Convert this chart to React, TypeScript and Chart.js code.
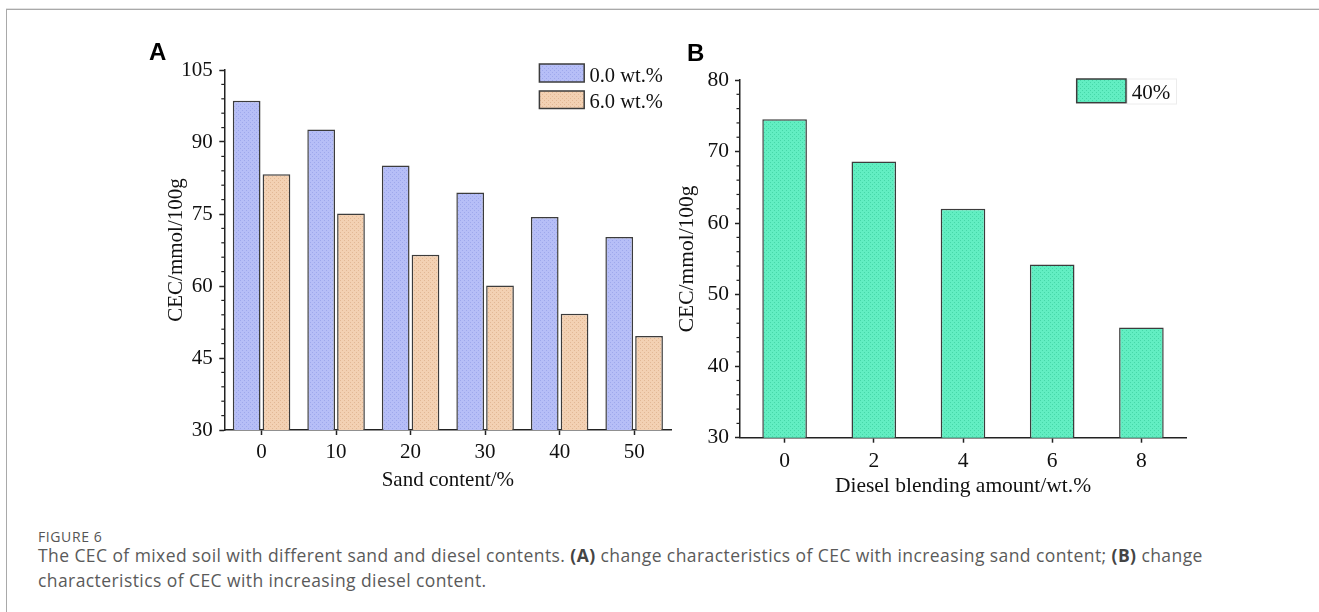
import React, { useEffect, useRef } from "react";
import { Chart, registerables } from "chart.js";

Chart.register(...registerables);

// ---- Data ----
const sandCategories = ["0", "10", "20", "30", "40", "50"];
const sandSeriesLabels = ["0.0 wt.%", "6.0 wt.%"];
const sandCEC_0wt = [98.6, 92.6, 85.1, 79.5, 74.4, 70.2];
const sandCEC_6wt = [83.3, 75.1, 66.5, 60.1, 54.2, 49.6];
const sandYRange = [30, 105];
const sandYStep = 15;
const sandYMinorStep = 3;

const dieselCategories = ["0", "2", "4", "6", "8"];
const dieselSeriesLabel = "40%";
const dieselCEC = [74.5, 68.6, 62.0, 54.2, 45.4];
const dieselYRange = [30, 80];
const dieselYStep = 10;
const dieselYMinorStep = 2;

const SERIF = "'Liberation Serif', 'Times New Roman', serif";

function makePattern(base: string, dot: string): CanvasPattern | string {
  const c = document.createElement("canvas");
  c.width = 4;
  c.height = 4;
  const g = c.getContext("2d");
  if (!g) return base;
  g.fillStyle = base;
  g.fillRect(0, 0, 4, 4);
  g.fillStyle = dot;
  g.fillRect(0, 0, 1, 1);
  g.fillRect(2, 2, 1, 1);
  const p = g.createPattern(c, "repeat");
  return p || base;
}

const minorTicksPlugin = {
  id: "minorTicks",
  afterDraw(chart: any, _args: any, opts: any) {
    const y = chart.scales.y;
    if (!y || !opts || !opts.step) return;
    const ctx = chart.ctx;
    ctx.save();
    ctx.strokeStyle = opts.color || "#222";
    ctx.lineWidth = 1.2;
    const n = Math.round((y.max - y.min) / opts.step);
    const ratio = Math.round(opts.major / opts.step);
    for (let i = 0; i <= n; i++) {
      if (i % ratio === 0) continue;
      const v = y.min + i * opts.step;
      const p = y.getPixelForValue(v);
      ctx.beginPath();
      ctx.moveTo(y.right - opts.len, p);
      ctx.lineTo(y.right, p);
      ctx.stroke();
    }
    ctx.restore();
  },
};

const boxLegendPlugin = {
  id: "boxLegend",
  afterDraw(chart: any, _args: any, opts: any) {
    if (!opts || !opts.items) return;
    const ctx = chart.ctx;
    ctx.save();
    const items = opts.items;
    for (let i = 0; i < items.length; i++) {
      const it = items[i];
      const ds = chart.data.datasets[i];
      if (opts.frame) {
        ctx.strokeStyle = "#ececec";
        ctx.lineWidth = 1;
        ctx.strokeRect(it.fx, it.fy, it.fw, it.fh);
      }
      ctx.fillStyle = ds.backgroundColor;
      ctx.fillRect(it.x, it.y, it.w, it.h);
      ctx.strokeStyle = "#3c3c3c";
      ctx.lineWidth = 1.5;
      ctx.strokeRect(it.x, it.y, it.w, it.h);
      ctx.fillStyle = "#111";
      ctx.font = opts.font;
      ctx.textBaseline = "alphabetic";
      ctx.textAlign = "left";
      ctx.fillText(ds.label, it.tx, it.ty);
    }
    ctx.restore();
  },
};

function axisCommon(fontSize: number) {
  return {
    grid: {
      display: true,
      drawOnChartArea: false,
      drawTicks: true,
      tickLength: 5,
      tickWidth: 1.5,
      tickColor: "#222",
      offset: false,
    },
    border: { display: true, color: "#222", width: 1.5 },
    ticks: {
      color: "#111",
      font: { family: SERIF, size: fontSize },
      maxRotation: 0,
      autoSkip: false,
    },
  };
}

function SandChart() {
  const ref = useRef<HTMLCanvasElement>(null);
  useEffect(() => {
    if (!ref.current) return;
    const blue = makePattern("#b6bef7", "#9ea8ec");
    const orange = makePattern("#f3d1b3", "#e2b895");
    const fs = 21;
    const base = axisCommon(fs);
    const chart = new Chart(ref.current, {
      type: "bar",
      data: {
        labels: sandCategories,
        datasets: [
          {
            label: sandSeriesLabels[0],
            data: sandCEC_0wt,
            backgroundColor: blue as any,
            borderColor: "#3c3c3c",
            borderWidth: 1.5,
            categoryPercentage: 0.8,
            barPercentage: 0.93,
          },
          {
            label: sandSeriesLabels[1],
            data: sandCEC_6wt,
            backgroundColor: orange as any,
            borderColor: "#3c3c3c",
            borderWidth: 1.5,
            categoryPercentage: 0.8,
            barPercentage: 0.93,
          },
        ],
      },
      options: {
        animation: false,
        responsive: false,
        maintainAspectRatio: false,
        layout: { padding: { left: 0, right: 18.6, top: 40, bottom: 0 } },
        plugins: {
          legend: { display: false },
          tooltip: { enabled: false },
          minorTicks: { step: sandYMinorStep, major: sandYStep, len: 3, color: "#222" },
          boxLegend: {
            font: `20.5px ${SERIF}`,
            items: [
              { x: 409.4, y: 34, w: 44.8, h: 18, tx: 459.4, ty: 52 },
              { x: 409.4, y: 61, w: 44.8, h: 17.5, tx: 459.4, ty: 77.5 },
            ],
          },
        } as any,
        scales: {
          x: {
            ...base,
            offset: true,
            ticks: { ...base.ticks, padding: 5 },
            title: {
              display: true,
              text: "Sand content/%",
              color: "#111",
              font: { family: SERIF, size: fs, lineHeight: 1.2 },
              padding: { top: 0, bottom: 7.4 },
            },
            afterFit: (s: any) => {
              s.height = 70;
            },
          },
          y: {
            ...base,
            min: sandYRange[0],
            max: sandYRange[1],
            ticks: { ...base.ticks, stepSize: sandYStep, padding: 6.5 },
            title: {
              display: true,
              text: "CEC/mmol/100g",
              color: "#111",
              font: { family: SERIF, size: fs, lineHeight: 1.2 },
              padding: { top: 34, bottom: 0 },
            },
            afterFit: (s: any) => {
              s.width = 94.3;
            },
          },
        } as any,
      },
      plugins: [minorTicksPlugin, boxLegendPlugin],
    });
    return () => chart.destroy();
  }, []);
  return (
    <canvas
      ref={ref}
      width={560}
      height={470}
      style={{ position: "absolute", left: 130, top: 30, width: 560, height: 470 }}
    />
  );
}

function DieselChart() {
  const ref = useRef<HTMLCanvasElement>(null);
  useEffect(() => {
    if (!ref.current) return;
    const green = makePattern("#62eec2", "#46d7a8");
    const fs = 21.5;
    const base = axisCommon(fs);
    const chart = new Chart(ref.current, {
      type: "bar",
      data: {
        labels: dieselCategories,
        datasets: [
          {
            label: dieselSeriesLabel,
            data: dieselCEC,
            backgroundColor: green as any,
            borderColor: "#3c3c3c",
            borderWidth: 1.5,
            categoryPercentage: 0.5,
            barPercentage: 1,
          },
        ],
      },
      options: {
        animation: false,
        responsive: false,
        maintainAspectRatio: false,
        layout: { padding: { left: 0, right: 24, top: 50, bottom: 0 } },
        plugins: {
          legend: { display: false },
          tooltip: { enabled: false },
          minorTicks: { step: dieselYMinorStep, major: dieselYStep, len: 3.5, color: "#222" },
          boxLegend: {
            font: `21px ${SERIF}`,
            frame: true,
            items: [
              { x: 406.7, y: 49, w: 49.3, h: 23.7, tx: 461.7, ty: 69.3, fx: 457.5, fy: 49, fw: 49, fh: 25 },
            ],
          },
        } as any,
        scales: {
          x: {
            ...base,
            offset: true,
            ticks: { ...base.ticks, padding: 5.5 },
            title: {
              display: true,
              text: "Diesel blending amount/wt.%",
              color: "#111",
              font: { family: SERIF, size: fs, lineHeight: 1.2 },
              padding: { top: 0, bottom: 1.1 },
            },
            afterFit: (s: any) => {
              s.height = 62.3;
            },
          },
          y: {
            ...base,
            min: dieselYRange[0],
            max: dieselYRange[1],
            ticks: { ...base.ticks, stepSize: dieselYStep, padding: 6 },
            title: {
              display: true,
              text: "CEC/mmol/100g",
              color: "#111",
              font: { family: SERIF, size: fs, lineHeight: 1.2 },
              padding: { top: 4.8, bottom: 0 },
            },
            afterFit: (s: any) => {
              s.width = 70;
            },
          },
        } as any,
      },
      plugins: [minorTicksPlugin, boxLegendPlugin],
    });
    return () => chart.destroy();
  }, []);
  return (
    <canvas
      ref={ref}
      width={540}
      height={470}
      style={{ position: "absolute", left: 670, top: 30, width: 540, height: 470 }}
    />
  );
}

export default function App() {
  const panelLetter: React.CSSProperties = {
    position: "absolute",
    font: "bold 24px 'Liberation Sans', Arial, sans-serif",
    lineHeight: "24px",
    color: "#000",
    margin: 0,
  };
  const caption: React.CSSProperties = {
    position: "absolute",
    left: 38,
    font: "17.5px 'Open Sans', 'Noto Sans', sans-serif",
    lineHeight: "25px",
    letterSpacing: "0.42px",
    color: "#5a5a5a",
    whiteSpace: "nowrap",
    margin: 0,
  };
  return (
    <div
      style={{
        position: "absolute",
        left: 0,
        top: 0,
        width: 1319,
        height: 612,
        background: "#fff",
        overflow: "hidden",
      }}
    >
      <div
        style={{
          position: "absolute",
          left: 6,
          top: 8,
          width: 1320,
          height: 620,
          borderTop: "1px solid #e2e2e2",
        }}
      />
      <div
        style={{
          position: "absolute",
          left: 6,
          top: 9,
          width: 1320,
          height: 620,
          borderTop: "1px solid #a9a9a9",
          borderLeft: "1px solid #a9a9a9",
        }}
      />
      <SandChart />
      <DieselChart />
      <div style={{ ...panelLetter, left: 149, top: 40 }}>A</div>
      <div style={{ ...panelLetter, left: 687, top: 41 }}>B</div>
      <div
        style={{
          ...caption,
          top: 530,
          fontSize: 14,
          lineHeight: "14px",
          letterSpacing: "0.6px",
          color: "#555",
        }}
      >
        FIGURE 6
      </div>
      <div style={{ ...caption, top: 543 }}>
        The CEC of mixed soil with different sand and diesel contents. <b style={{ color: "#444" }}>(A)</b> change
        characteristics of CEC with increasing sand content; <b style={{ color: "#444" }}>(B)</b> change
        <br />
        characteristics of CEC with increasing diesel content.
      </div>
    </div>
  );
}
